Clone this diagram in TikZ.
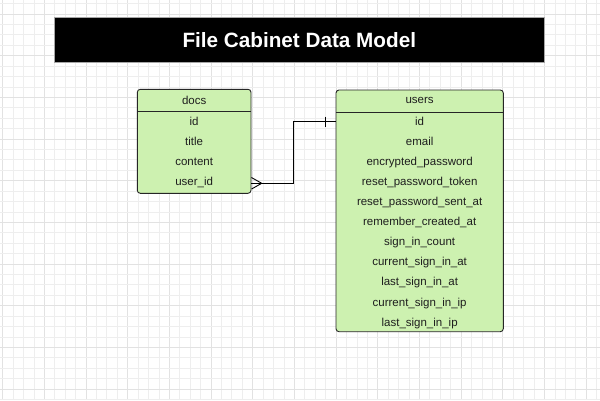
\documentclass[tikz,border=0pt]{standalone}
\usepackage{fontspec}
\setmainfont{Liberation Sans}
\usetikzlibrary{calc}
\definecolor{tblgreen}{RGB}{205,241,176}
\definecolor{gridminor}{RGB}{238,238,238}
\definecolor{gridmajor}{RGB}{226,226,226}
\definecolor{txt}{RGB}{30,30,30}
\begin{document}
\begin{tikzpicture}[x=1pt,y=-1pt,
  tbl/.style={draw=black!85, fill=tblgreen, rounded corners=3pt, line width=0.9pt, inner sep=0pt},
  hdr/.style={inner sep=0pt, text=txt, font=\fontsize{11.5}{13}\selectfont},
  row/.style={inner sep=0pt, text=txt, font=\fontsize{11.5}{13}\selectfont, text height=8.3pt, text depth=2.4pt},
  titlebox/.style={draw=gray!70, fill=black, line width=1pt, text=white, font=\bfseries\fontsize{20.7}{24}\selectfont, minimum width=490pt, minimum height=45pt, inner sep=0pt},
  conn/.style={draw=black, line width=0.9pt}
]
\useasboundingbox (0,0) rectangle (600,400);
\fill[white] (0,0) rectangle (600,400);
% grid
\foreach \k in {0,...,57} {
  \pgfmathsetmacro{\xx}{2.6+10.42*\k}
  \pgfmathtruncatemacro{\m}{mod(\k,4)}
  \ifnum\m=0
    \draw[gridmajor, line width=0.8pt] (\xx,0) -- (\xx,400);
  \else
    \draw[gridminor, line width=0.7pt] (\xx,0) -- (\xx,400);
  \fi
}
\foreach \k in {0,...,38} {
  \pgfmathsetmacro{\yy}{3.5+10.42*\k}
  \pgfmathtruncatemacro{\m}{mod(\k,4)}
  \ifnum\m=1
    \draw[gridmajor, line width=0.8pt] (0,\yy) -- (600,\yy);
  \else
    \draw[gridminor, line width=0.7pt] (0,\yy) -- (600,\yy);
  \fi
}
% title
\node[titlebox] (title) at (299.3,40.2) {File Cabinet Data Model};
% docs table
\node[tbl, minimum width=113.7pt, minimum height=104pt] (docs) at (194.15,141.3) {};
\node[inner sep=0pt, minimum width=113.7pt, minimum height=22.4pt, anchor=north] (docsh) at (docs.north) {};
\node[hdr] (docst) at (docsh.center) {docs};
\draw[black!85, line width=0.9pt] (docsh.south west) -- (docsh.south east);
\foreach \t [count=\i from 0] in {id,title,content,user\_id} {
  \node[row] (d\i) at (194.15,{122.2+20.1*\i}) {\t};
}
% users table
\node[tbl, minimum width=167.3pt, minimum height=241.7pt] (users) at (419.65,210.85) {};
\node[inner sep=0pt, minimum width=167.3pt, minimum height=22.3pt, anchor=north] (usersh) at (users.north) {};
\node[hdr] (userst) at (usersh.center) {users};
\draw[black!85, line width=0.9pt] (usersh.south west) -- (usersh.south east);
\foreach \t [count=\i from 0] in {id,email,encrypted\_password,reset\_password\_token,reset\_password\_sent\_at,remember\_created\_at,sign\_in\_count,current\_sign\_in\_at,last\_sign\_in\_at,current\_sign\_in\_ip,last\_sign\_in\_ip} {
  \node[row] (u\i) at (419.65,{122.2+20.1*\i}) {\t};
}
% connector
\coordinate (cs) at (docs.east |- 0,183.3);
\coordinate (cp) at (261.7,183.3);
\coordinate (b1) at (293.3,183.3);
\coordinate (b2) at (293.3,121.7);
\coordinate (ce) at (users.west |- 0,121.7);
\draw[conn] (cs) -- (b1) -- (b2) -- (ce);
\draw[conn] ($(cs)+(0,-5.8)$) -- (cp) -- ($(cs)+(0,5.8)$);
\draw[conn] (325,116.5) -- (325,126.8);
\end{tikzpicture}
\end{document}
